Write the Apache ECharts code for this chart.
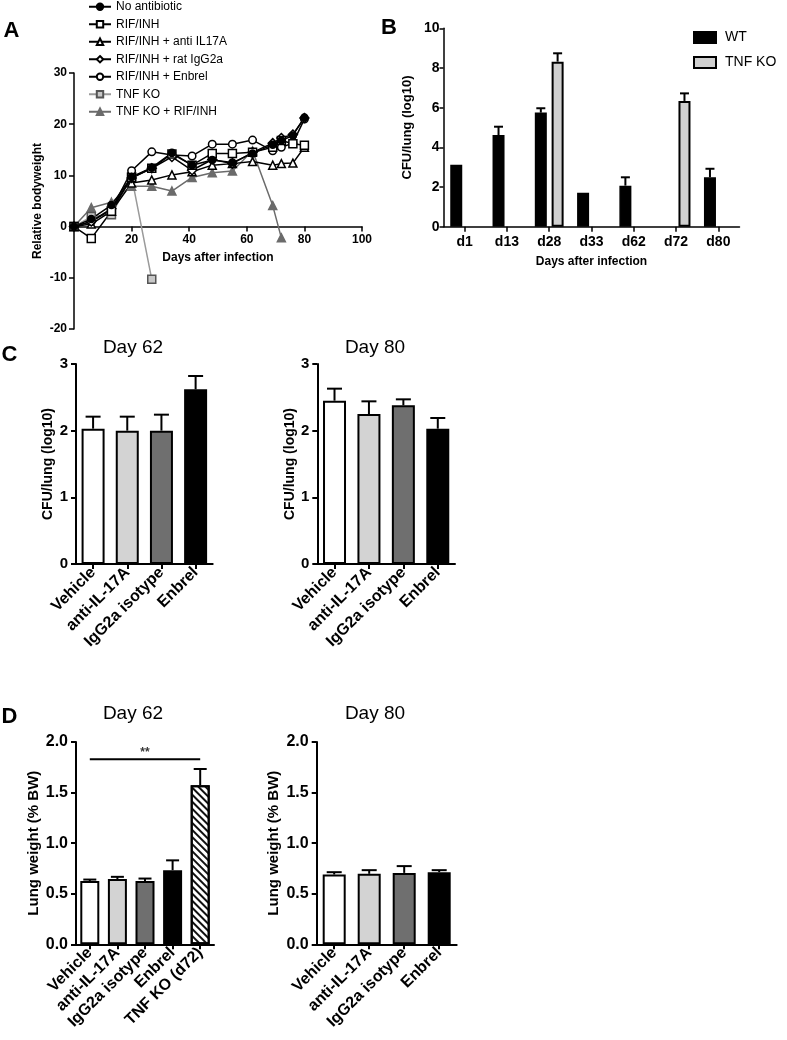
<!DOCTYPE html>
<html><head><meta charset="utf-8">
<script src="https://cdn.jsdelivr.net/npm/echarts@6.0.0/dist/echarts.min.js"></script>
<style>html,body{margin:0;padding:0;background:#fff}#c{width:787px;height:1040px}</style>
</head><body><div id="c"></div>
<script>
// ---------------- data ----------------
// Panel A: relative bodyweight over days after infection
const daysA = [0, 6, 13, 20, 27, 34, 41, 48, 55, 62, 69, 72, 76, 80];
const bwNoAntibiotic = [0, 1.5, 4.2, 9.7, 11.5, 14.4, 12.0, 13.0, 12.5, 14.3, 16.0, 16.8, 17.8, 21.3];
const bwRifInh      = [0, -2.3, 3.0, 9.6, 11.4, 14.2, 12.0, 14.3, 14.3, 14.5, 15.5, 16.8, 16.2, 15.9];
const bwAntiIL17A   = [0, 0.5, 3.0, 8.5, 9.1, 10.1, 10.7, 12.0, 12.3, 12.7, 12.0, 12.3, 12.4, 15.5];
const bwRatIgG2a    = [0, 1.0, 3.5, 9.5, 11.4, 13.6, 11.0, 13.1, 12.3, 14.5, 16.3, 17.3, 18.0, 21.2];
const bwEnbrel      = [0, 1.0, 3.3, 10.9, 14.6, 14.0, 13.8, 16.1, 16.1, 16.9, 14.8, 15.5, 16.3, 21.0];
const bwTnfKo       = [0, 1.95, 2.3, 9.75, -10.3];
const bwTnfKoRif    = [0, 3.7, 4.75, 7.9, 7.9, 6.95, 9.6, 10.5, 10.85, 14.8, 4.1, -2.2];
const seriesNamesA = ['No antibiotic', 'RIF/INH', 'RIF/INH + anti IL17A', 'RIF/INH + rat IgG2a',
                      'RIF/INH + Enbrel', 'TNF KO', 'TNF KO + RIF/INH'];

// Panel B: CFU/lung
const catsB = ['d1', 'd13', 'd28', 'd33', 'd62', 'd72', 'd80'];
const groupNamesB = ['WT', 'TNF KO'];
const wtMean = [3.12, 4.62, 5.75, 1.71, 2.07, null, 2.49];
const wtSem  = [0, 0.42, 0.22, 0, 0.42, null, 0.43];
const koMean = [null, null, 8.32, null, null, 6.34, null];
const koSem  = [null, null, 0.42, null, null, 0.38, null];

// Panel C: CFU/lung day 62 / day 80
const catsC = ['Vehicle', 'anti-IL-17A', 'IgG2a isotype', 'Enbrel'];
const cfuDay62 = [2.03, 2.0, 2.0, 2.62];
const cfuDay62Sem = [0.18, 0.21, 0.24, 0.20];
const cfuDay80 = [2.45, 2.25, 2.38, 2.03];
const cfuDay80Sem = [0.18, 0.19, 0.09, 0.16];

// Panel D: lung weight day 62 / day 80
const catsD62 = ['Vehicle', 'anti-IL-17A', 'IgG2a isotype', 'Enbrel', 'TNF KO (d72)'];
const lungDay62 = [0.625, 0.645, 0.625, 0.733, 1.572];
const lungDay62Sem = [0.015, 0.022, 0.025, 0.097, 0.161];
const catsD80 = ['Vehicle', 'anti-IL-17A', 'IgG2a isotype', 'Enbrel'];
const lungDay80 = [0.69, 0.697, 0.706, 0.713];
const lungDay80Sem = [0.023, 0.036, 0.067, 0.02];
const sigFrom = 'Vehicle', sigTo = 'TNF KO (d72)', sigMid = 'IgG2a isotype', sigLevel = 1.83, sigText = '**';

// ---------------- styles ----------------
const FF = 'Liberation Sans, Arial, Helvetica, sans-serif';
const groupColors = ['#ffffff', '#d3d3d3', '#6f6f6f', '#000000'];
const hatch = { color: '#ffffff', decal: { symbol: 'rect', symbolSize: 1, dashArrayX: [1, 0], dashArrayY: [1.3, 2.2], rotation: Math.PI / 4, color: '#111' } };
const KO_B_ID = 'TNF KO (panel B)';

function pairs(xs, ys) { return ys.map((v, i) => [xs[i], v]); }

function axisBase(lw) {
  return {
    axisLine: { show: true, onZero: true, lineStyle: { color: '#000', width: lw } },
    axisTick: { show: true, length: 5, inside: false, lineStyle: { color: '#000', width: lw } },
    splitLine: { show: false }
  };
}

function barSeries(xi, vals, colors, barW, extraItems) {
  return {
    type: 'bar', xAxisIndex: xi, yAxisIndex: xi, barWidth: barW, silent: true,
    itemStyle: { borderColor: '#000', borderWidth: 2 },
    data: vals.map((v, i) => {
      const it = { value: v, itemStyle: { color: colors[i] } };
      if (extraItems && extraItems[i]) Object.assign(it.itemStyle, extraItems[i]);
      return it;
    })
  };
}

function errSeries(xi, vals, sems, offset, cap) {
  const d = [];
  vals.forEach((v, i) => { if (v != null && sems[i]) d.push([i, v, v + sems[i]]); });
  return {
    type: 'custom', xAxisIndex: xi, yAxisIndex: xi, silent: true, z: 5,
    encode: { x: 0, y: [1, 2] },
    data: d,
    renderItem: (params, api) => {
      const b = api.coord([api.value(0), api.value(1)]);
      const t = api.coord([api.value(0), api.value(2)]);
      const x = b[0] + offset;
      const st = { stroke: '#000', lineWidth: 2 };
      return { type: 'group', children: [
        { type: 'line', shape: { x1: x, y1: b[1], x2: x, y2: t[1] }, style: st },
        { type: 'line', shape: { x1: x - cap / 2, y1: t[1], x2: x + cap / 2, y2: t[1] }, style: st }
      ]};
    }
  };
}

function lineSeriesA(name, data, symbol, size, fill, stroke, lineColor) {
  return {
    type: 'line', name, xAxisIndex: 0, yAxisIndex: 0, data, symbol, symbolSize: size,
    showAllSymbol: true, silent: true,
    lineStyle: { color: lineColor, width: 1.5 },
    itemStyle: { color: fill, borderColor: stroke, borderWidth: 1.5 }
  };
}

const catLabel = (fs) => ({ rotate: 45, fontSize: fs, fontWeight: 'bold', fontFamily: FF, color: '#000', margin: 6, interval: 0 });
const valLabel = (fs, margin, fmt) => ({ fontSize: fs, fontWeight: 'bold', fontFamily: FF, color: '#000', margin: margin, formatter: fmt });
const nameStyle = (fs) => ({ fontSize: fs, fontWeight: 'bold', fontFamily: FF, color: '#000' });
const catTick = (lw) => ({ show: true, alignWithLabel: true, length: 5, lineStyle: { color: '#000', width: lw } });

const option = {
  animation: false,
  backgroundColor: '#fff',
  textStyle: { fontFamily: FF },
  grid: [
    { left: 74, top: 73, width: 288, height: 256 },        // A
    { left: 443.5, top: 28.3, width: 296, height: 198.4 },  // B
    { left: 76, top: 364, width: 136.7, height: 200 },      // C day62
    { left: 317.3, top: 364, width: 137.7, height: 200 },   // C day80
    { left: 76, top: 742, width: 138, height: 202.3 },      // D day62
    { left: 316.7, top: 742, width: 140, height: 202.3 }    // D day80
  ],
  xAxis: [
    Object.assign(axisBase(1.5), { type: 'value', gridIndex: 0, min: 0, max: 100, interval: 20,
      axisLine: { show: true, onZero: false, lineStyle: { color: '#000', width: 1.5 } },
      offset: -102.4,
      axisLabel: valLabel(12, 7, v => v === 0 ? '' : String(v)), name: 'Days after infection', nameLocation: 'middle', nameGap: 25,
      nameTextStyle: nameStyle(12) }),
    Object.assign(axisBase(1.5), { type: 'category', gridIndex: 1, data: catsB, axisTick: catTick(1.5),
      axisLabel: Object.assign(valLabel(14, 8), { interval: 0 }), name: 'Days after infection', nameLocation: 'middle', nameGap: 29,
      nameTextStyle: nameStyle(12) }),
    Object.assign(axisBase(2), { type: 'category', gridIndex: 2, data: catsC, axisTick: catTick(2), axisLabel: catLabel(16) }),
    Object.assign(axisBase(2), { type: 'category', gridIndex: 3, data: catsC, axisTick: catTick(2), axisLabel: catLabel(16) }),
    Object.assign(axisBase(2), { type: 'category', gridIndex: 4, data: catsD62, axisTick: catTick(2), axisLabel: catLabel(16) }),
    Object.assign(axisBase(2), { type: 'category', gridIndex: 5, data: catsD80, axisTick: catTick(2), axisLabel: catLabel(16) })
  ],
  yAxis: [
    Object.assign(axisBase(1.5), { type: 'value', gridIndex: 0, min: -20, max: 30, interval: 10,
      axisLabel: valLabel(12, 7), name: 'Relative bodyweight', nameLocation: 'middle', nameGap: 30, nameTextStyle: nameStyle(12) }),
    Object.assign(axisBase(1.5), { type: 'value', gridIndex: 1, min: 0, max: 10, interval: 2,
      axisTick: { show: true, length: 4, lineStyle: { color: '#000', width: 1.5 } },
      axisLabel: valLabel(14, 4), name: 'CFU/lung (log10)', nameLocation: 'middle', nameGap: 30, nameTextStyle: nameStyle(13) }),
    Object.assign(axisBase(2), { type: 'value', gridIndex: 2, min: 0, max: 3, interval: 1,
      axisLabel: valLabel(15, 8), name: 'CFU/lung (log10)', nameLocation: 'middle', nameGap: 21, nameTextStyle: nameStyle(14) }),
    Object.assign(axisBase(2), { type: 'value', gridIndex: 3, min: 0, max: 3, interval: 1,
      axisLabel: valLabel(15, 8), name: 'CFU/lung (log10)', nameLocation: 'middle', nameGap: 20, nameTextStyle: nameStyle(14) }),
    Object.assign(axisBase(2), { type: 'value', gridIndex: 4, min: 0, max: 2, interval: 0.5,
      axisLabel: valLabel(16, 8, v => v.toFixed(1)), name: 'Lung weight (% BW)', nameLocation: 'middle', nameGap: 35, nameTextStyle: nameStyle(15) }),
    Object.assign(axisBase(2), { type: 'value', gridIndex: 5, min: 0, max: 2, interval: 0.5,
      axisLabel: valLabel(16, 8, v => v.toFixed(1)), name: 'Lung weight (% BW)', nameLocation: 'middle', nameGap: 35, nameTextStyle: nameStyle(15) })
  ],
  legend: [
    { data: seriesNamesA, orient: 'vertical', left: 88, top: 0, padding: 0, itemWidth: 22, itemHeight: 8, itemGap: 4,
      textStyle: { fontSize: 12, fontFamily: FF, color: '#000', lineHeight: 13.5 }, selectedMode: false },
    { data: [groupNamesB[0], KO_B_ID], orient: 'vertical', left: 693, top: 30.5, padding: 0, itemWidth: 22, itemHeight: 11, itemGap: 11,
      icon: 'rect', formatter: n => n === KO_B_ID ? groupNamesB[1] : n,
      textStyle: { fontSize: 14, fontFamily: FF, color: '#000', lineHeight: 14, padding: [0, 0, 0, 4] }, selectedMode: false }
  ],
  graphic: [
    { type: 'text', x: 11.5, y: 31, style: { text: 'A', font: 'bold 22px ' + FF, align: 'center', verticalAlign: 'middle', fill: '#000' } },
    { type: 'text', x: 389, y: 28, style: { text: 'B', font: 'bold 22px ' + FF, align: 'center', verticalAlign: 'middle', fill: '#000' } },
    { type: 'text', x: 9.5, y: 355, style: { text: 'C', font: 'bold 22px ' + FF, align: 'center', verticalAlign: 'middle', fill: '#000' } },
    { type: 'text', x: 9.5, y: 717, style: { text: 'D', font: 'bold 22px ' + FF, align: 'center', verticalAlign: 'middle', fill: '#000' } },
    { type: 'text', x: 133, y: 347.5, style: { text: 'Day 62', font: '19px ' + FF, align: 'center', verticalAlign: 'middle', fill: '#000' } },
    { type: 'text', x: 375, y: 347.5, style: { text: 'Day 80', font: '19px ' + FF, align: 'center', verticalAlign: 'middle', fill: '#000' } },
    { type: 'text', x: 133, y: 713.5, style: { text: 'Day 62', font: '19px ' + FF, align: 'center', verticalAlign: 'middle', fill: '#000' } },
    { type: 'text', x: 375, y: 713.5, style: { text: 'Day 80', font: '19px ' + FF, align: 'center', verticalAlign: 'middle', fill: '#000' } }
  ],
  series: [
    // Panel A
    lineSeriesA(seriesNamesA[6], pairs(daysA, bwTnfKoRif), 'triangle', 8, '#6b6b6b', '#6b6b6b', '#6b6b6b'),
    lineSeriesA(seriesNamesA[5], pairs(daysA, bwTnfKo), 'rect', 8, '#c8c8c8', '#555', '#9a9a9a'),
    lineSeriesA(seriesNamesA[2], pairs(daysA, bwAntiIL17A), 'triangle', 8, '#fff', '#000', '#000'),
    lineSeriesA(seriesNamesA[4], pairs(daysA, bwEnbrel), 'circle', 7.5, '#fff', '#000', '#000'),
    lineSeriesA(seriesNamesA[3], pairs(daysA, bwRatIgG2a), 'diamond', 9, '#fff', '#000', '#000'),
    lineSeriesA(seriesNamesA[1], pairs(daysA, bwRifInh), 'rect', 8, '#fff', '#000', '#000'),
    lineSeriesA(seriesNamesA[0], pairs(daysA, bwNoAntibiotic), 'circle', 7, '#000', '#000', '#000'),
    // Panel B
    { type: 'bar', name: groupNamesB[0], xAxisIndex: 1, yAxisIndex: 1, data: wtMean, barWidth: 12, barGap: '40%', silent: true,
      itemStyle: { color: '#000', borderColor: '#000', borderWidth: 1.5 } },
    { type: 'bar', name: KO_B_ID, xAxisIndex: 1, yAxisIndex: 1, data: koMean, barWidth: 12, barGap: '40%', silent: true,
      itemStyle: { color: '#d0d0d0', borderColor: '#000', borderWidth: 2 } },
    errSeries(1, wtMean, wtSem, -8.4, 9),
    errSeries(1, koMean, koSem, 8.4, 9),
    // Panel C
    barSeries(2, cfuDay62, groupColors, 23),
    errSeries(2, cfuDay62, cfuDay62Sem, 0, 15),
    barSeries(3, cfuDay80, groupColors, 23),
    errSeries(3, cfuDay80, cfuDay80Sem, 0, 15),
    // Panel D
    barSeries(4, lungDay62, groupColors.concat(['#ffffff']), 19, [null, null, null, null, hatch]),
    errSeries(4, lungDay62, lungDay62Sem, 0, 13),
    { type: 'line', xAxisIndex: 4, yAxisIndex: 4, data: [[sigFrom, sigLevel], [sigTo, sigLevel]], symbol: 'none', silent: true,
      lineStyle: { color: '#000', width: 2 } },
    { type: 'scatter', xAxisIndex: 4, yAxisIndex: 4, data: [[sigMid, sigLevel]], symbolSize: 0, silent: true,
      label: { show: true, formatter: sigText, position: 'top', distance: 1, fontSize: 12, fontWeight: 'bold', fontFamily: FF, color: '#000' } },
    barSeries(5, lungDay80, groupColors, 23),
    errSeries(5, lungDay80, lungDay80Sem, 0, 15)
  ]
};

const chart = echarts.init(document.getElementById('c'), null, { renderer: 'canvas', width: 787, height: 1040 });
chart.setOption(option);
</script>
</body></html>
